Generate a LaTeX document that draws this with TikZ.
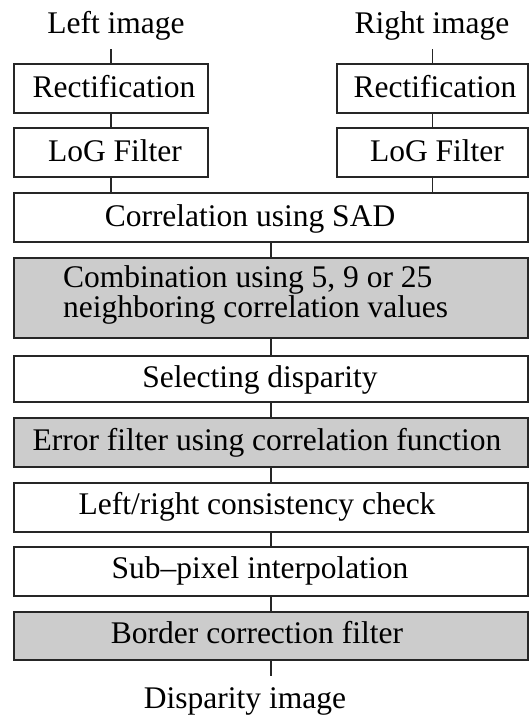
\documentclass[tikz,border=0pt]{standalone}
\usepackage{fontspec}
\setmainfont{Liberation Serif}
\begin{document}
\begin{tikzpicture}[x=1pt,y=1pt,
  box/.style={draw=black!85, line width=1.1pt, rectangle, inner sep=0pt, outer sep=0pt},
  gbox/.style={box, fill=black!20},
  txt/.style={anchor=base, inner sep=0pt, font=\fontsize{31.5}{27}\selectfont},
  txtw/.style={txt, anchor=base west, align=left},
  conn/.style={draw=black!85, line width=1.1pt}]
\useasboundingbox (0,0) rectangle (529,-716);
% boxes
\node[box, minimum width=194pt, minimum height=49pt] (rectL) at (111,-88.5) {};
\node[box, minimum width=191pt, minimum height=49pt] (rectR) at (432.5,-88.5) {};
\node[box, minimum width=194pt, minimum height=49pt] (logL) at (111,-152.5) {};
\node[box, minimum width=191pt, minimum height=49pt] (logR) at (432.5,-152.5) {};
\node[box, minimum width=514pt, minimum height=49pt] (corr) at (271,-217.5) {};
\node[gbox, minimum width=514pt, minimum height=80pt] (comb) at (271,-298) {};
\node[box, minimum width=514pt, minimum height=46pt] (sel) at (271,-379) {};
\node[gbox, minimum width=514pt, minimum height=49pt] (err) at (271,-442.5) {};
\node[box, minimum width=514pt, minimum height=49pt] (lr) at (271,-507.5) {};
\node[box, minimum width=514pt, minimum height=49pt] (sub) at (271,-571.5) {};
\node[gbox, minimum width=514pt, minimum height=48pt] (bord) at (271,-636) {};
% texts
\node[txt] (tLeft) at (116,-33) {Left image};
\node[txt] (tRight) at (432,-33) {Right image};
\node[txt] (tRectL) at (114,-97) {Rectification};
\node[txt] (tRectR) at (435,-97) {Rectification};
\node[txt] (tLogL) at (115,-161) {LoG Filter};
\node[txt] (tLogR) at (437,-161) {LoG Filter};
\node[txt] (tCorr) at (250,-226) {Correlation using SAD};
\node[txtw] (tComb) at (63,-317) {Combination using 5, 9 or 25\\neighboring correlation values};
\node[txt] (tSel) at (260,-387) {Selecting disparity};
\node[txt] (tErr) at (267,-450) {Error filter using correlation function};
\node[txt] (tLR) at (257,-514) {Left/right consistency check};
\node[txt] (tSub) at (260,-578) {Sub--pixel interpolation};
\node[txt] (tBord) at (257,-643) {Border correction filter};
\node[txt] (tDisp) at (245,-708) {Disparity image};
% connector ends
\coordinate (inL) at (111,-49);
\coordinate (inR) at (432.5,-49);
\coordinate (outB) at (271,-676);
% connectors
\draw[conn] (inL) -- (rectL.north);
\draw[conn] (inR) -- (rectR.north);
\draw[conn] (rectL.south) -- (logL.north);
\draw[conn] (rectR.south) -- (logR.north);
\draw[conn] (logL.south) -- (logL.south |- corr.north);
\draw[conn] (logR.south) -- (logR.south |- corr.north);
\draw[conn] (corr.south) -- (comb.north);
\draw[conn] (comb.south) -- (sel.north);
\draw[conn] (sel.south) -- (err.north);
\draw[conn] (err.south) -- (lr.north);
\draw[conn] (lr.south) -- (sub.north);
\draw[conn] (sub.south) -- (bord.north);
\draw[conn] (bord.south) -- (outB);
\end{tikzpicture}
\end{document}
